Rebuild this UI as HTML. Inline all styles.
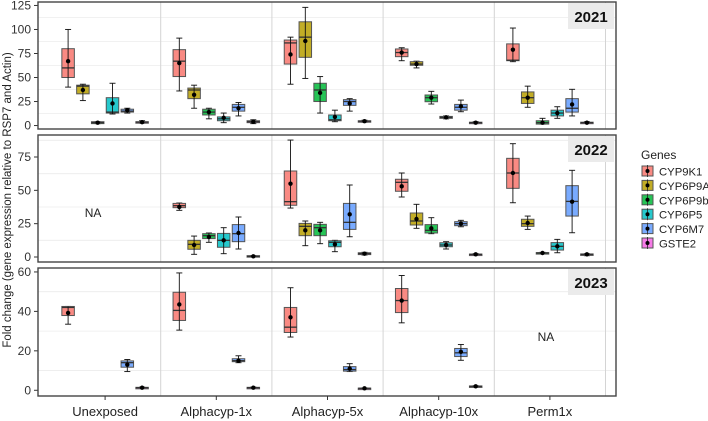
<!DOCTYPE html>
<html><head><meta charset="utf-8">
<style>
html,body{margin:0;padding:0;background:#fff;}
svg{display:block;font-family:"Liberation Sans",Arial,sans-serif;}
</style></head>
<body>
<svg id="chart" width="708" height="421" viewBox="0 0 708 421" xmlns="http://www.w3.org/2000/svg">
<text transform="translate(11,200) rotate(-90)" text-anchor="middle" font-size="11.5" fill="#222">Fold change (gene expression relative to RSP7 and Actin)</text>
<g id="plots"></g>
<g id="legend"></g>
</svg>
<script>
// ---- data ----
const groups = ["Unexposed","Alphacyp-1x","Alphacyp-5x","Alphacyp-10x","Perm1x"];
const genes = ["CYP9K1","CYP6P9A","CYP6P9b","CYP6P5","CYP6M7","GSTE2"];
const geneColors = ["#F8766D","#B79F00","#00BA38","#00BFC4","#619CFF","#F564E3"];
const years = ["2021","2022","2023"];
// each stat: [lowWhisker, q1, median, q3, highWhisker, mean] ; null = missing
const stats2021 = [
 [[40,50,60,80,100,67],[26,33,41,42,43,37],[2,2,3,4,4,3],[12,13,14,29,44,23],[13,14,15,17,18,16],[2.5,3,3.5,4,5,3.5]],
 [[36,51,67,79,91,65],[18,28,37,39,42,32],[7,11,14,17,18,14],[3,5,7,9,13,8],[10,15,19,22,24,18],[2,3,4,5,6,4]],
 [[43,64,86,89,92,74],[49,71,92,108,123,88],[13,25,37,44,51,34],[4,5,6,11,16,9],[15,21,25,27,28,23],[3.5,4,4.5,5,5.5,4.5]],
 [[67.5,71.7,76,79.7,81,76],[60,62.7,64,66.5,67,64],[22.4,24.8,29,31.8,35.6,29],[7,7.5,8.5,9.5,10,8.5],[14.4,16,19,22,26.5,20],[2,2.5,3,3.5,4,3]],
 [[66.5,67.5,68,85,101.5,79],[19,23,29,35,41,29],[1.5,1.5,3,5,7.5,3],[7.5,10,13,16,19.6,13],[10,14,18,28,37.7,22],[2.5,3,3,3.5,4,3]]
];
const stats2022 = [
 [null,null,null,null,null,null],
 [[35,37,38.5,40.2,40.5,37.5],[2,5.8,9.5,12.5,15.7,9],[11,13.8,16,17.5,18,15],[2.5,7.3,12.5,17.7,22,12.5],[6,11.5,17.5,24.3,30,18],[0,0,0.5,1,1,0.5]],
 [[36.7,38.8,41.5,64.5,87.7,55],[8.5,16,23,25.2,27,20],[10,16,22,24.5,26,20],[4,7.7,11,12.2,12.5,9.5],[15.2,20.7,26,40.2,54,32],[1.5,1.8,2.5,3.2,3.5,2.5]],
 [[45,49.3,56,58.3,63,53],[21.5,24,27,33,39.5,28.5],[17.5,18,20,24.3,29.5,21.5],[6,7.7,9,10.7,11.5,9],[22.7,23.5,25,26.5,27.5,25],[1.5,1.8,2,2.2,2.5,2]],
 [[40.7,51.5,63,74,85,63],[20.7,23,25,28.3,30.7,25.5],[2.5,2.7,3,3.3,3.5,3],[3.2,5.2,8,10.8,13.2,8],[18.2,30.7,41.7,53.5,65,41.5],[1,1.5,2,2.3,2.5,2]]
];
const stats2023 = [
 [[33.5,37.9,42,42.5,42.5,39.2],null,null,null,[9.5,11.7,14,14.9,15.6,13],[1,1.1,1.3,1.5,1.6,1.3]],
 [[30.5,35.4,40.5,49.7,59.5,43.5],null,null,null,[14,14.5,15,16,17.5,15],[1,1.1,1.3,1.5,1.6,1.3]],
 [[27,29.3,32,42,52,37],null,null,null,[9.5,9.7,10.5,12,13.5,11],[0.8,0.9,1,1.1,1.2,1]],
 [[34.2,39.4,45.5,51.6,58.2,45.5],null,null,null,[15.2,17.1,19,21.2,23.2,19.5],[1.7,1.8,2,2.2,2.3,2]],
 [null,null,null,null,null,null]
];
const yTicks2021 = [0,25,50,75,100,125];
const yTicks2022 = [0,25,50,75];
const yTicks2023 = [0,20,40,60];
const yDomain2021 = [-3.6,128.6];
const yDomain2022 = [-3.75,91.5];
const yDomain2023 = [-2.9,62];

// ---- layout ----
const NS = "http://www.w3.org/2000/svg";
const svg = document.getElementById('chart');
const plots = document.getElementById('plots');
const X0 = 38, X1 = 616, G0 = 49.5, GW = 111.2;
const panels = [
  {year:years[0], top:2, bottom:129, stats:stats2021, ticks:yTicks2021, dom:yDomain2021, na:null},
  {year:years[1], top:135, bottom:262, stats:stats2022, ticks:yTicks2022, dom:yDomain2022, na:[0,213]},
  {year:years[2], top:268, bottom:396, stats:stats2023, ticks:yTicks2023, dom:yDomain2023, na:[4,337]}
];
function el(tag, attrs, parent){ const e=document.createElementNS(NS,tag); for(const k in attrs) e.setAttribute(k,attrs[k]); (parent||svg).appendChild(e); return e; }
function xGroup(g){ return G0 + GW*(g+0.5); }
function xBox(g,i){ return xGroup(g) + (i-2.5)*14.8; }

panels.forEach((p,pi)=>{
  const y = v => p.bottom - (v - p.dom[0])/(p.dom[1]-p.dom[0])*(p.bottom-p.top);
  const g = el('g',{},plots);
  
  
  el('rect',{x:X0,y:p.top,width:X1-X0,height:p.bottom-p.top,fill:'#fff'},g);
  for(let k=0;k<p.ticks.length;k++){
    const step = p.ticks[1]-p.ticks[0];
    const mv = p.ticks[k]+step/2;
    if(y(mv)>p.top) el('line',{x1:X0,x2:X1,y1:y(mv),y2:y(mv),stroke:'#ececec','stroke-width':0.8},g);
  }
  for(let k=1;k<=5;k++){ const x=G0+GW*k; el('line',{x1:x,x2:x,y1:p.top,y2:p.bottom,stroke:'#d4d4d4','stroke-width':1},g); }
  p.ticks.forEach(t=>{
    const yy=y(t);
    el('line',{x1:34,x2:X0,y1:yy,y2:yy,stroke:'#333','stroke-width':1},g);
    const tx=el('text',{x:31,y:yy+4,'text-anchor':'end','font-size':12,fill:'#333'},g);
    tx.textContent=t;
    
    
  });
  p.stats.forEach((grp,gi)=>{
    grp.forEach((s,ii)=>{
      if(!s) return;
      const cx=xBox(gi,ii), bw=12.5;
      const b=el('g',{},g);
      
      
      el('line',{x1:cx-3,x2:cx+3,y1:y(s[0]),y2:y(s[0]),stroke:'#222','stroke-width':1},b);
      el('line',{x1:cx-3,x2:cx+3,y1:y(s[4]),y2:y(s[4]),stroke:'#222','stroke-width':1},b);
      const h=Math.max(1.5,y(s[1])-y(s[3]));
      el('rect',{x:cx-bw/2,y:y(s[3]),width:bw,height:h,fill:geneColors[ii],'fill-opacity':0.85,stroke:'#555','stroke-width':1},b);
      el('line',{x1:cx-bw/2,x2:cx+bw/2,y1:y(s[2]),y2:y(s[2]),stroke:'#333','stroke-width':1.3},b);
      el('line',{x1:cx,x2:cx,y1:y(s[0]),y2:y(s[4]),stroke:'#111','stroke-width':0.9},b);
      el('circle',{cx:cx,cy:y(s[5]),r:2.2,fill:'#000'},b);
    });
  });
  if(p.na){
    const t=el('text',{x:xGroup(p.na[0])+(p.na[0]===0?-12:-4),y:p.na[1]+4,'text-anchor':'middle','font-size':12,fill:'#222'},g);
    t.textContent='NA';
    
    
  }
  const s=el('g',{},g);
  
  
  el('rect',{x:568,y:p.top+1,width:46,height:26,fill:'#ebebeb'},s);
  const st=el('text',{x:591,y:p.top+20,'text-anchor':'middle','font-size':15,'font-weight':'bold',fill:'#111'},s);
  st.textContent=p.year;
  el('rect',{x:X0,y:p.top,width:X1-X0,height:p.bottom-p.top,fill:'none',stroke:'#444','stroke-width':1.4},g);
});
groups.forEach((gname,gi)=>{
  const x=xGroup(gi);
  el('line',{x1:x,x2:x,y1:396,y2:400,stroke:'#333','stroke-width':1});
  const t=el('text',{x:x,y:416,'text-anchor':'middle','font-size':13,fill:'#222'});
  t.textContent=gname;
  
  
});
const lg=document.getElementById('legend');
const lt=el('text',{x:641,y:159,'font-size':12,fill:'#222'},lg);
lt.textContent='Genes';


genes.forEach((gn,i)=>{
  const yy=171+i*14.4;
  const e=el('g',{},lg);
  
  
  el('rect',{x:642,y:yy-5,width:11,height:10,fill:geneColors[i],'fill-opacity':0.85,stroke:'#555','stroke-width':1},e);
  el('line',{x1:647.5,x2:647.5,y1:yy-6,y2:yy+6,stroke:'#222','stroke-width':0.8},e);
  el('circle',{cx:647.5,cy:yy,r:2,fill:'#000'},e);
  const t=el('text',{x:659,y:yy+4.5,'font-size':11.3,fill:'#222'},e);
  t.textContent=gn;
});
</script>
</body></html>
